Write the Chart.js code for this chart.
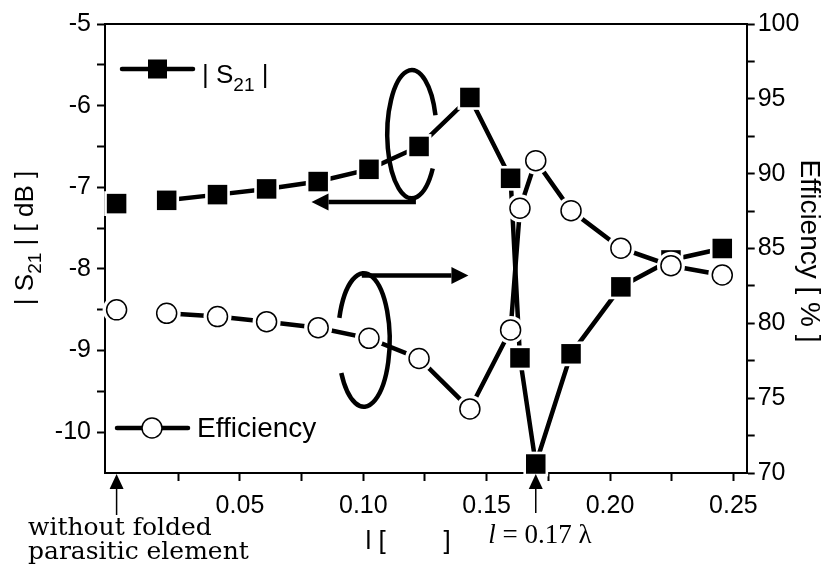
<!DOCTYPE html>
<html>
<head>
<meta charset="utf-8">
<script src="https://cdn.jsdelivr.net/npm/chart.js@4.4.0/dist/chart.umd.min.js"></script>
<style>
  html, body { margin: 0; padding: 0; background: #fff; }
  canvas { display: block; }
</style>
</head>
<body>
<canvas id="myChart" width="834" height="576"></canvas>
<script>
// l in wavelengths; the first point is the antenna without folded parasitic element
const lengths = [0, 0.0203, 0.0409, 0.0608, 0.0817, 0.1023, 0.1226, 0.1432, 0.1597, 0.1635, 0.1699, 0.1842, 0.2044, 0.2247, 0.2455];
const s21 = [-7.20, -7.16, -7.09, -7.02, -6.93, -6.78, -6.50, -5.90, -6.89, -9.09, -10.39, -9.04, -8.22, -7.89, -7.75];
const efficiency = [80.9, 80.67, 80.45, 80.11, 79.71, 79.0, 77.65, 74.28, 79.56, 87.69, 90.87, 87.53, 85.02, 83.85, 83.23];

const xTicks = [0.025, 0.05, 0.075, 0.10, 0.125, 0.15, 0.175, 0.20, 0.225, 0.25];
const s21Ticks = [-10, -9.5, -9, -8.5, -8, -7.5, -7, -6.5, -6, -5.5, -5];
const effTicks = [70, 72.5, 75, 77.5, 80, 82.5, 85, 87.5, 90, 92.5, 95, 97.5, 100];

const SANS = '"Liberation Sans", Arial, sans-serif';
Chart.defaults.font.family = SANS;
Chart.defaults.color = '#000';

const pts = (ys) => lengths.map((x, i) => ({ x: x, y: ys[i] }));
// first point stands alone (no folded element), so its segment is hidden
const skipFirst = { borderColor: c => c.p0DataIndex === 0 ? 'rgba(0,0,0,0)' : '#000' };

const lineSet = (ys, axis, order) => ({
  data: pts(ys), yAxisID: axis, order: order, showLine: true, pointRadius: 0,
  borderColor: '#000', borderWidth: 4.5, borderCapStyle: 'round', segment: skipFirst
});

const datasets = [
  // efficiency: markers, white gaps, line
  { data: pts(efficiency), yAxisID: 'y2', order: 0, pointStyle: 'circle', pointRadius: 10,
    backgroundColor: '#fff', borderColor: '#000', borderWidth: 1.5, clip: false },
  { data: pts(efficiency), yAxisID: 'y2', order: 1, pointStyle: 'circle', pointRadius: 14,
    backgroundColor: '#fff', borderWidth: 0, clip: false },
  lineSet(efficiency, 'y2', 2),
  // |S21|
  { data: pts(s21), yAxisID: 'y', order: 3, pointStyle: 'rect', pointRadius: 13.8,
    backgroundColor: '#000', borderWidth: 0, clip: false },
  { data: pts(s21), yAxisID: 'y', order: 4, pointStyle: 'rect', pointRadius: 17.5,
    backgroundColor: '#fff', borderWidth: 0, clip: false },
  lineSet(s21, 'y', 5)
];

const gridOpts = { drawOnChartArea: false, drawTicks: true, tickLength: 8, tickWidth: 2, tickColor: '#000' };
const borderOpts = { display: true, color: '#000', width: 2 };

function drawRuns(ctx, runs, x, y, align) {
  let total = 0;
  runs.forEach(r => { ctx.font = r.font; r.w = ctx.measureText(r.text).width; total += r.w; });
  let cx = align === 'center' ? x - total / 2 : x;
  ctx.textAlign = 'left';
  ctx.textBaseline = 'alphabetic';
  runs.forEach(r => { ctx.font = r.font; ctx.fillText(r.text, cx, y + (r.dy || 0)); cx += r.w; });
}

function arrow(ctx, x1, y1, x2, y2, len, half, lw) {
  const a = Math.atan2(y2 - y1, x2 - x1);
  const bx = x2 - len * Math.cos(a), by = y2 - len * Math.sin(a);
  ctx.lineWidth = lw;
  ctx.beginPath(); ctx.moveTo(x1, y1); ctx.lineTo(bx, by); ctx.stroke();
  ctx.beginPath();
  ctx.moveTo(x2, y2);
  ctx.lineTo(bx + half * Math.sin(a), by - half * Math.cos(a));
  ctx.lineTo(bx - half * Math.sin(a), by + half * Math.cos(a));
  ctx.closePath(); ctx.fill();
}

const annotations = {
  id: 'annotations',
  afterDraw(chart) {
    const { ctx, scales } = chart;
    const x = scales.x, y = scales.y;
    ctx.save();
    ctx.fillStyle = '#000';
    ctx.strokeStyle = '#000';
    ctx.lineCap = 'round';

    const big = '26px ' + SANS, sub = '19px ' + SANS, wide = '28px ' + SANS;

    // left axis title
    ctx.save();
    ctx.translate(33, 238);
    ctx.rotate(-Math.PI / 2);
    drawRuns(ctx, [{ text: '| S', font: big }, { text: '21', font: sub, dy: 8 }, { text: ' | [ dB ]', font: big }], 0, 0, 'center');
    ctx.restore();

    // right axis title
    ctx.save();
    ctx.translate(801, 251);
    ctx.rotate(Math.PI / 2);
    drawRuns(ctx, [{ text: 'Efficiency [ % ]', font: wide }], 0, 0, 'center');
    ctx.restore();

    // x axis title (lambda not rendered in the original)
    drawRuns(ctx, [{ text: 'l [        ]', font: big }], 408, 549, 'center');

    // legends
    ctx.lineWidth = 4.5;
    ctx.beginPath(); ctx.moveTo(122, 69); ctx.lineTo(193, 69); ctx.stroke();
    ctx.fillRect(157.5 - 9.5, 69 - 9.5, 19, 19);
    drawRuns(ctx, [{ text: '| S', font: big }, { text: '21', font: sub, dy: 8 }, { text: ' |', font: big }], 202, 83, 'left');

    ctx.beginPath(); ctx.moveTo(117, 428); ctx.lineTo(188, 428); ctx.stroke();
    ctx.beginPath(); ctx.arc(152, 428, 10, 0, Math.PI * 2);
    ctx.fillStyle = '#fff'; ctx.fill();
    ctx.lineWidth = 1.5; ctx.stroke();
    ctx.fillStyle = '#000';
    drawRuns(ctx, [{ text: 'Efficiency', font: wide }], 197, 437, 'left');

    // axis-indicator ellipses with arrows (positions in data units)
    ctx.lineWidth = 4.5;
    ctx.lineCap = 'butt';
    const e1x = x.getPixelForValue(0.1197), e1y = y.getPixelForValue(-6.35);
    const e1rx = x.getPixelForValue(0.1197 + 0.01) - e1x, e1ry = y.getPixelForValue(-6.35 - 0.785) - e1y;
    ctx.beginPath(); ctx.ellipse(e1x, e1y, e1rx, e1ry, 0, 0.566, 2 * Math.PI - 0.30); ctx.stroke();
    arrow(ctx, e1x + 4, y.getPixelForValue(-7.18), x.getPixelForValue(0.079), y.getPixelForValue(-7.18), 17, 8.5, 4.5);

    const e2x = x.getPixelForValue(0.1002), e2y = y.getPixelForValue(-8.87);
    const e2rx = x.getPixelForValue(0.1002 + 0.0105) - e2x, e2ry = y.getPixelForValue(-8.87 - 0.818) - e2y;
    ctx.beginPath(); ctx.ellipse(e2x, e2y, e2rx, e2ry, 0, Math.PI + 0.336, 3 * Math.PI - 0.518); ctx.stroke();
    arrow(ctx, e2x - 2, y.getPixelForValue(-8.08), x.getPixelForValue(0.1426), y.getPixelForValue(-8.08), 17, 8.5, 4.5);

    // bottom annotations
    const base = x.getPixelForValue(0), res = x.getPixelForValue(0.1699);
    const bottom = chart.chartArea.bottom;
    arrow(ctx, base, 515, base, bottom + 1, 15, 7, 1.5);
    arrow(ctx, res, 513, res, bottom + 1, 15, 7, 1.5);

    const serif = '25px "DejaVu Serif", serif';
    drawRuns(ctx, [{ text: 'without folded', font: serif }], 28, 535, 'left');
    drawRuns(ctx, [{ text: 'parasitic element', font: serif }], 28, 559, 'left');
    drawRuns(ctx, [{ text: 'l', font: 'italic 27px "Liberation Serif", serif' },
                   { text: ' = 0.17 \u03bb', font: '27px "Liberation Serif", serif' }], 540, 543, 'center');
    ctx.restore();
  }
};

const ctx = document.getElementById('myChart').getContext('2d');
const myChart = new Chart(ctx, {
  type: 'scatter',
  data: { datasets: datasets },
  plugins: [annotations],
  options: {
    responsive: false,
    animation: false,
    events: [],
    layout: { padding: 0 },
    plugins: { legend: { display: false }, tooltip: { enabled: false } },
    scales: {
      x: {
        type: 'linear', position: 'bottom', min: -0.0047, max: 0.2554,
        grid: gridOpts, border: borderOpts,
        afterBuildTicks: s => { s.ticks = xTicks.map(v => ({ value: v })); },
        afterFit: s => { s.height = 103; },
        ticks: {
          autoSkip: false, maxRotation: 0, padding: 10, font: { size: 25 },
          callback: v => Math.abs(v * 20 - Math.round(v * 20)) < 1e-6 ? v.toFixed(2) : ''
        }
      },
      xTop: {
        type: 'linear', position: 'top', min: -0.0047, max: 0.2554,
        grid: { drawOnChartArea: false, drawTicks: false }, border: borderOpts,
        ticks: { display: false },
        afterFit: s => { s.height = 24; }
      },
      y: {
        type: 'linear', position: 'left', min: -10.5, max: -5,
        grid: gridOpts, border: borderOpts,
        afterBuildTicks: s => { s.ticks = s21Ticks.map(v => ({ value: v })); },
        afterFit: s => { s.width = 105; },
        ticks: { padding: 6, font: { size: 25 }, callback: v => Number.isInteger(v) ? String(v) : '' }
      },
      y2: {
        type: 'linear', position: 'right', min: 70, max: 100,
        grid: gridOpts, border: borderOpts,
        afterBuildTicks: s => { s.ticks = effTicks.map(v => ({ value: v })); },
        afterFit: s => { s.width = 87.3; },
        ticks: { padding: 3, font: { size: 25 }, callback: v => v % 5 === 0 ? String(v) : '' }
      }
    }
  }
});
</script>
</body>
</html>
